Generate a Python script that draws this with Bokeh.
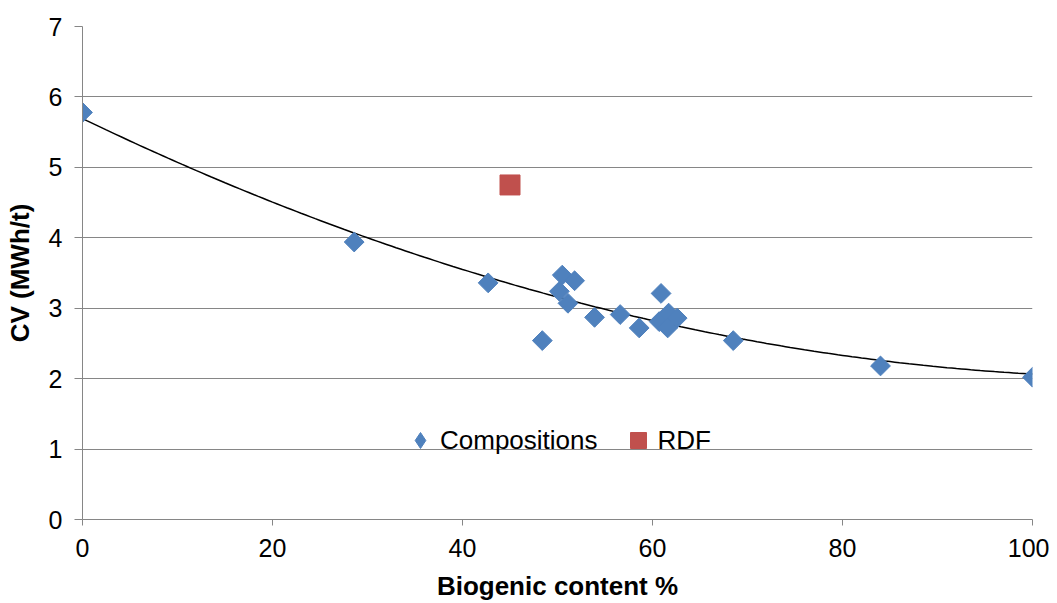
import numpy as np
from bokeh.plotting import figure
from bokeh.models import Range1d, Legend, LegendItem, FixedTicker
from bokeh.embed import file_html
from bokeh.resources import INLINE

comp_x = [0, 28.6, 42.7, 48.4, 50.5, 51.8, 50.2, 51.1, 53.9, 56.6, 58.6, 60.9,
          60.7, 61.7, 62.6, 61.6, 68.5, 84.0, 100]
comp_y = [5.78, 3.94, 3.36, 2.54, 3.47, 3.39, 3.24, 3.07, 2.87, 2.91, 2.72, 3.21,
          2.81, 2.93, 2.86, 2.72, 2.54, 2.18, 2.02]
rdf_x = [45.0]
rdf_y = [4.75]
x_ticks = [0, 20, 40, 60, 80, 100]
y_ticks = [0, 1, 2, 3, 4, 5, 6, 7]

FONT = "Liberation Sans"
GRID = "#868686"
BLUE = "#4F81BD"
RED = "#C0504D"

p = figure(width=1049, height=603, output_backend="svg", toolbar_location=None,
           x_range=Range1d(0, 100), y_range=Range1d(0, 7),
           min_border_left=82, min_border_right=17, min_border_top=26, min_border_bottom=83)
p.outline_line_color = None
p.xgrid.grid_line_color = None
p.ygrid.grid_line_color = GRID
p.ygrid.grid_line_width = 1

p.xaxis.ticker = FixedTicker(ticks=x_ticks)
p.yaxis.ticker = FixedTicker(ticks=y_ticks)
for ax in (p.xaxis[0], p.yaxis[0]):
    ax.axis_line_color = GRID
    ax.major_tick_line_color = GRID
    ax.minor_tick_line_color = None
    ax.major_tick_in = 0
    ax.major_label_text_font = FONT
    ax.major_label_text_font_size = "25px"
    ax.major_label_text_color = "black"
    ax.axis_label_text_font = FONT
    ax.axis_label_text_font_size = "26px"
    ax.axis_label_text_font_style = "bold"
    ax.axis_label_text_color = "black"
p.xaxis.major_tick_out = 6
p.yaxis.major_tick_out = 8
p.xaxis.major_label_standoff = 13
p.yaxis.major_label_standoff = 12
p.xaxis.axis_label = "Biogenic content %"
p.yaxis.axis_label = "CV (MWh/t)"
p.xaxis.axis_label_standoff = 11
p.yaxis.axis_label_standoff = 11

# polynomial (order 2) trendline fitted to the compositions
coef = np.polyfit(comp_x, comp_y, 2)
tx = np.linspace(0, 100, 201)
ty = np.polyval(coef, tx)
p.line(tx, ty, line_color="black", line_width=1.5)

r1 = p.scatter(comp_x, comp_y, marker="square", size=14, angle=np.pi / 4,
               fill_color=BLUE, line_color=BLUE)
r2 = p.scatter(rdf_x, rdf_y, marker="square", size=20,
               fill_color=RED, line_color=RED)
# legend-only proxy (Excel legend shows an upright diamond)
r1_leg = p.scatter(x=[np.nan], y=[np.nan], marker="diamond", size=14,
                   fill_color=BLUE, line_color=BLUE)

legend = Legend(items=[LegendItem(label="Compositions", renderers=[r1_leg]),
                       LegendItem(label="RDF", renderers=[r2])],
                orientation="horizontal", location=(318, 59),
                background_fill_alpha=0, border_line_color=None,
                padding=0, margin=0, spacing=20, label_standoff=0,
                glyph_width=40, glyph_height=40,
                label_text_font=FONT, label_text_font_size="26px",
                label_text_color="black")
p.add_layout(legend, "center")

open("out.html", "w").write(file_html(p, INLINE))
